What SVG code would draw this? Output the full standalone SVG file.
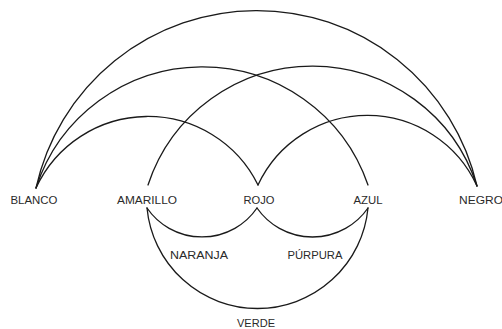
<svg xmlns="http://www.w3.org/2000/svg" width="502" height="329" viewBox="0 0 502 329">
<style>
.arc{fill:none;stroke:#1a1a1a;stroke-width:1.3;stroke-linecap:round}
.lbl{font-family:"Liberation Sans",Arial,sans-serif;font-size:11px;fill:#2a2a2a;text-anchor:middle}
</style>
<rect width="502" height="329" fill="#fff"/>
<g id="connectors">
<path class="arc" d="M36,188 A226,226 0 0 1 477,186"/>
<path class="arc" d="M36,188 A175,175 0 0 1 368,185"/>
<path class="arc" d="M148,185 A173,173 0 0 1 477,186"/>
<path class="arc" d="M36,188 A123,123 0 0 1 258,185"/>
<path class="arc" d="M258,185 A120.6,120.6 0 0 1 477,186"/>
<path class="arc" d="M147,208 A66.7,66.7 0 0 0 257,208"/>
<path class="arc" d="M257,208 A67.6,67.6 0 0 0 368,208"/>
<path class="arc" d="M147,208 A111,111 0 0 0 368,208"/>
</g>
<g id="blanco"><text class="lbl" x="34" y="204" textLength="47" lengthAdjust="spacingAndGlyphs">BLANCO</text></g>
<g id="amarillo"><text class="lbl" x="147" y="204" textLength="60" lengthAdjust="spacingAndGlyphs">AMARILLO</text></g>
<g id="rojo"><text class="lbl" x="259" y="204" textLength="31" lengthAdjust="spacingAndGlyphs">ROJO</text></g>
<g id="azul"><text class="lbl" x="368" y="204" textLength="29" lengthAdjust="spacingAndGlyphs">AZUL</text></g>
<g id="negro"><text class="lbl" x="481" y="204" textLength="44" lengthAdjust="spacingAndGlyphs">NEGRO</text></g>
<g id="naranja"><text class="lbl" x="199" y="259" textLength="58" lengthAdjust="spacingAndGlyphs">NARANJA</text></g>
<g id="purpura"><text class="lbl" x="315" y="259" textLength="55" lengthAdjust="spacingAndGlyphs">PÚRPURA</text></g>
<g id="verde"><text class="lbl" x="256" y="327" textLength="38" lengthAdjust="spacingAndGlyphs">VERDE</text></g>
</svg>
